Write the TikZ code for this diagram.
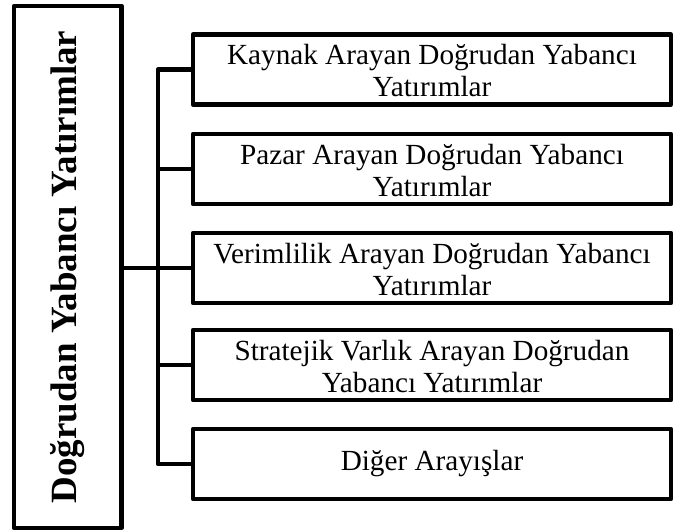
\documentclass[tikz,border=0pt]{standalone}
\usepackage{fontspec}
\setmainfont{Liberation Serif}
\begin{document}
\begin{tikzpicture}[x=1pt,y=-1pt,
  line width=4.3pt, line join=round,
  sidebox/.style={draw, line width=4.3pt, inner sep=0pt, outer sep=0pt,
    minimum width=478pt, minimum height=70pt},
  sidetext/.style={align=center, inner sep=0pt,
    font=\fontsize{29.2}{32}\selectfont},
  mainbox/.style={draw, line width=4.3pt, inner sep=0pt, outer sep=0pt,
    minimum width=107.5pt, minimum height=522pt},
  maintext/.style={rotate=90, font=\bfseries\fontsize{37}{40}\selectfont}]
\useasboundingbox (0,0) rectangle (674,531);
\node[mainbox] (L) at (67.75,267) {};
\node[maintext] (LT) at (L.center) {Doğrudan Yabancı Yatırımlar};
\node[sidebox] (B1) at (432,69.5) {};
\node[sidebox] (B2) at (432,169) {};
\node[sidebox] (B3) at (432,268) {};
\node[sidebox] (B4) at (432,365) {};
\node[sidebox] (B5) at (432,464) {};
\node[sidetext] (T1) at ([yshift=-1.5pt]B1.center) {Kaynak Arayan Doğrudan Yabancı\\Yatırımlar};
\node[sidetext] (T2) at ([yshift=-1.5pt]B2.center) {Pazar Arayan Doğrudan Yabancı\\Yatırımlar};
\node[sidetext] (T3) at ([yshift=-1.5pt]B3.center) {Verimlilik Arayan Doğrudan Yabancı\\Yatırımlar};
\node[sidetext] (T4) at ([yshift=-1.5pt]B4.center) {Stratejik Varlık Arayan Doğrudan\\Yabancı Yatırımlar};
\node[sidetext] (T5) at (B5.center) {Diğer Arayışlar};
\coordinate (tx) at (158,0);
\draw (B1.west) -- (tx |- B1.west) -- (tx |- B5.west) -- (B5.west);
\draw (tx |- B2.west) -- (B2.west);
\draw (tx |- B3.west) -- (B3.west);
\draw (tx |- B4.west) -- (B4.west);
\draw (L.east |- B3.west) -- (tx |- B3.west);
\end{tikzpicture}
\end{document}
